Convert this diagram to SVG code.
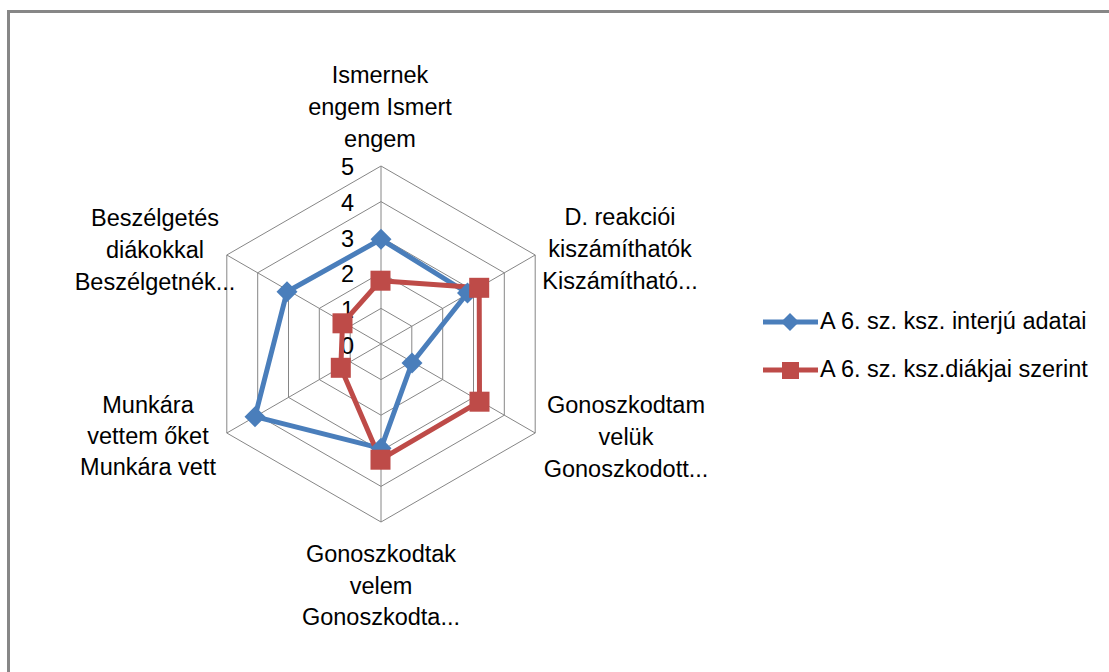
<svg xmlns="http://www.w3.org/2000/svg" width="1109" height="672" viewBox="0 0 1109 672">
<style>
.t{font-family:"Liberation Sans",Arial,sans-serif;font-size:23.5px;fill:#000}
.c{text-anchor:middle}
.r{text-anchor:end}
.grid{fill:none;stroke:#868686;stroke-width:1}
.blue{fill:none;stroke:#4A7EBB;stroke-width:5;stroke-linejoin:round}
.red{fill:none;stroke:#BE4B48;stroke-width:5;stroke-linejoin:round}
</style>
<defs>
<path id="dia" d="M0,-10.5 L10.5,0 L0,10.5 L-10.5,0 Z" fill="#4A7EBB"/>
<rect id="sq" x="-10" y="-10" width="20" height="20" fill="#BE4B48"/>
</defs>
<rect x="0" y="0" width="1109" height="672" fill="#fff"/>
<path d="M8.5,672 V11.5 H1109" fill="none" stroke="#878787" stroke-width="3"/>
<g id="grid">
<polygon class="grid" points="381,308.4 411.8,326.2 411.8,361.8 381,379.6 350.2,361.8 350.2,326.2"/>
<polygon class="grid" points="381,272.8 442.7,308.4 442.7,379.6 381,415.2 319.3,379.6 319.3,308.4"/>
<polygon class="grid" points="381,237.2 473.5,290.6 473.5,397.4 381,450.8 288.5,397.4 288.5,290.6"/>
<polygon class="grid" points="381,201.6 504.3,272.8 504.3,415.2 381,486.4 257.7,415.2 257.7,272.8"/>
<polygon class="grid" points="381,166 535.2,255 535.2,433 381,522 226.8,433 226.8,255"/>
<path class="grid" d="M381,344 L381,166 M381,344 L535.2,255 M381,344 L535.2,433 M381,344 L381,522 M381,344 L226.8,433 M381,344 L226.8,255"/>
</g>
<g id="ticks">
<text class="t r" x="354" y="175">5</text>
<text class="t r" x="354" y="211">4</text>
<text class="t r" x="354" y="247">3</text>
<text class="t r" x="354" y="282">2</text>
<text class="t r" x="354" y="318">1</text>
<text class="t r" x="354" y="354">0</text>
</g>
<g id="connectors">
<polygon id="series-blue" class="blue" points="381,239.3 467.5,293 412,363 381,448.3 255,416.7 287,291.7"/>
<polygon id="series-red" class="red" points="380.5,280.7 479.2,287.8 479.5,401.7 380.5,459.7 340.8,367.8 342.5,323.3"/>
</g>
<g id="markers-blue">
<use href="#dia" x="381" y="239.3"/>
<use href="#dia" x="467.5" y="293"/>
<use href="#dia" x="412" y="363"/>
<use href="#dia" x="381" y="448.3"/>
<use href="#dia" x="255" y="416.7"/>
<use href="#dia" x="287" y="291.7"/>
</g>
<g id="markers-red">
<use href="#sq" x="380.5" y="280.7"/>
<use href="#sq" x="479.2" y="287.8"/>
<use href="#sq" x="479.5" y="401.7"/>
<use href="#sq" x="380.5" y="459.7"/>
<use href="#sq" x="340.8" y="367.8"/>
<use href="#sq" x="342.5" y="323.3"/>
</g>
<g id="label-top">
<text class="t c" x="380" y="83">Ismernek</text>
<text class="t c" x="380" y="115">engem Ismert</text>
<text class="t c" x="380" y="147">engem</text>
</g>
<g id="label-upper-right">
<text class="t c" x="620" y="225">D. reakciói</text>
<text class="t c" x="620" y="257">kiszámíthatók</text>
<text class="t c" x="620" y="289">Kiszámítható...</text>
</g>
<g id="label-lower-right">
<text class="t c" x="626" y="413">Gonoszkodtam</text>
<text class="t c" x="626" y="445">velük</text>
<text class="t c" x="626" y="477">Gonoszkodott...</text>
</g>
<g id="label-bottom">
<text class="t c" x="381" y="562">Gonoszkodtak</text>
<text class="t c" x="381" y="594">velem</text>
<text class="t c" x="381" y="625">Gonoszkodta...</text>
</g>
<g id="label-lower-left">
<text class="t c" x="148" y="413">Munkára</text>
<text class="t c" x="148" y="444">vettem őket</text>
<text class="t c" x="148" y="475">Munkára vett</text>
</g>
<g id="label-upper-left">
<text class="t c" x="155" y="226">Beszélgetés</text>
<text class="t c" x="155" y="258">diákokkal</text>
<text class="t c" x="155" y="290">Beszélgetnék...</text>
</g>
<g id="legend">
<g id="legend-blue">
<line x1="763" y1="322" x2="818" y2="322" stroke="#4A7EBB" stroke-width="5"/>
<path d="M790,313 L799,322 L790,331 L781,322 Z" fill="#4A7EBB"/>
<text class="t" x="820" y="329">A 6. sz. ksz. interjú adatai</text>
</g>
<g id="legend-red">
<line x1="763" y1="370" x2="818" y2="370" stroke="#BE4B48" stroke-width="5"/>
<rect x="782" y="362" width="17" height="17" fill="#BE4B48"/>
<text class="t" x="820" y="377">A 6. sz. ksz.diákjai szerint</text>
</g>
</g>
</svg>
